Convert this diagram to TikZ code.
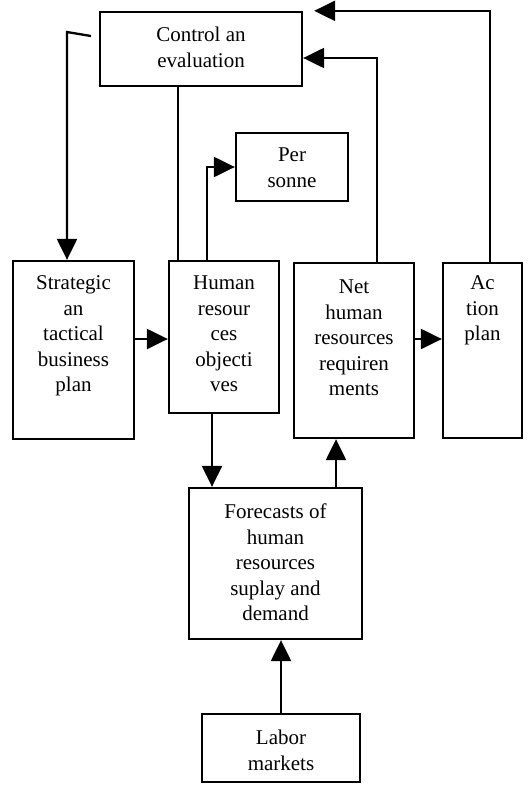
\documentclass[tikz,border=0pt]{standalone}
\usepackage{fontspec}
\setmainfont{Liberation Serif}
\usetikzlibrary{arrows.meta,calc}
\begin{document}
\begin{tikzpicture}[x=1pt,y=-1pt,
  blk/.style={draw, line width=2.3pt, inner sep=0pt},
  lbl/.style={align=center, inner sep=0pt, font=\fontsize{21}{25.5}\selectfont,
              anchor=north, execute at begin node=\strut},
  link/.style={line width=2.3pt},
  arr/.style={link, -{Triangle[length=21pt,width=20pt]}}]
\useasboundingbox (0,0) rectangle (529,790);

% boxes
\node[blk, minimum width=202pt, minimum height=74pt]  (ctrl)  at (201,49) {};
\node[blk, minimum width=112pt, minimum height=68pt]  (per)   at (292,167) {};
\node[blk, minimum width=121pt, minimum height=178pt] (strat) at (73.5,350) {};
\node[blk, minimum width=110pt, minimum height=152pt] (hum)   at (224,337) {};
\node[blk, minimum width=120pt, minimum height=175pt] (net)   at (354,350.5) {};
\node[blk, minimum width=79pt,  minimum height=175pt] (act)   at (482.5,350.5) {};
\node[blk, minimum width=173pt, minimum height=151pt] (fore)  at (275.5,563.5) {};
\node[blk, minimum width=158pt, minimum height=68pt]  (lab)   at (281,748) {};

% labels, hung from the top edge of each box
\node[lbl] (ctrlT)  at ([yshift=-16pt]ctrl.north)  {Control an\\evaluation};
\node[lbl] (perT)   at ([yshift=-16pt]per.north)   {Per\\sonne};
\node[lbl] (stratT) at ([yshift=-16pt]strat.north) {Strategic\\an\\tactical\\business\\plan};
\node[lbl] (humT)   at ([yshift=-16pt]hum.north)   {Human\\resour\\ces\\objecti\\ves};
\node[lbl] (netT)   at ([yshift=-18pt]net.north)   {Net\\human\\resources\\requiren\\ments};
\node[lbl] (actT)   at ([yshift=-14pt]act.north)   {Ac\\tion\\plan};
\node[lbl] (foreT)  at ([yshift=-17pt]fore.north)  {Forecasts of\\human\\resources\\suplay and\\demand};
\node[lbl] (labT)   at ([yshift=-17pt]lab.north)   {Labor\\markets};

% guide coordinates for connector positions
\coordinate (rowY) at (0,339);
\coordinate (hx) at (178,0);
\coordinate (px) at (207,0);
\coordinate (nx) at (377,0);
\coordinate (ax) at (490,0);
\coordinate (dx) at (212,0);
\coordinate (ux) at (336,0);
\coordinate (c1) at (91,36);
\coordinate (c2) at (67,32);
\coordinate (tq) at ([xshift=11pt]ctrl.north east);

% connectors
\draw[arr] (c1) -- (c2) -- (c2 |- strat.north);
\draw[link] (ctrl.south -| hx) -- (hum.north -| hx);
\draw[arr] (hum.north -| px) |- (per.west);
\draw[arr] (net.north -| nx) |- ([yshift=-9pt]ctrl.east);
\draw[arr] (act.north -| ax) |- (tq);
\draw[arr] (strat.east |- rowY) -- (hum.west |- rowY);
\draw[arr] (net.east |- rowY) -- (act.west |- rowY);
\draw[arr] (hum.south -| dx) -- (fore.north -| dx);
\draw[arr] (fore.north -| ux) -- (net.south -| ux);
\draw[arr] (lab.north) -- (lab.north |- fore.south);
\end{tikzpicture}
\end{document}
